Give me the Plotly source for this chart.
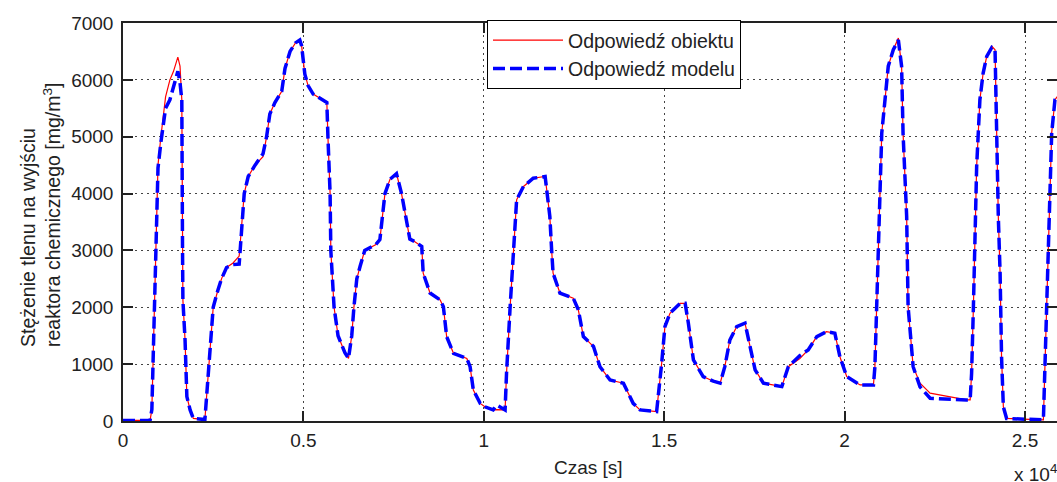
import plotly.graph_objects as go

# time in units of 10^4 s
czas = [0, 0.02, 0.075, 0.08, 0.088, 0.097, 0.105, 0.118, 0.13, 0.14, 0.152, 0.158, 0.163, 0.165, 0.166,
        0.172, 0.177, 0.186, 0.195, 0.227, 0.233, 0.239, 0.25, 0.263, 0.273, 0.287, 0.305, 0.322, 0.33,
        0.336, 0.347, 0.366, 0.388, 0.398, 0.407, 0.421, 0.44, 0.449, 0.463, 0.478, 0.49, 0.495, 0.504,
        0.513, 0.527, 0.554, 0.565, 0.568, 0.574, 0.576, 0.585, 0.596, 0.615, 0.625, 0.634, 0.64, 0.648,
        0.657, 0.67, 0.70, 0.712, 0.726, 0.74, 0.758, 0.772, 0.795, 0.81, 0.828, 0.832, 0.851, 0.879,
        0.888, 0.897, 0.916, 0.953, 0.962, 0.971, 0.99, 1.003, 1.026, 1.036, 1.059, 1.063, 1.073, 1.082,
        1.091, 1.11, 1.137, 1.17, 1.174, 1.183, 1.188, 1.192, 1.211, 1.248, 1.262, 1.276, 1.304, 1.322,
        1.35, 1.387, 1.414, 1.433, 1.479, 1.484, 1.493, 1.502, 1.516, 1.544, 1.558, 1.567, 1.581, 1.608,
        1.636, 1.655, 1.668, 1.682, 1.701, 1.724, 1.738, 1.752, 1.775, 1.826, 1.844, 1.876, 1.899, 1.923,
        1.95, 1.973, 1.987, 2.006, 2.043, 2.08, 2.084, 2.089, 2.093, 2.103, 2.112, 2.121, 2.135, 2.149,
        2.158, 2.162, 2.172, 2.176, 2.19, 2.209, 2.237, 2.283, 2.338, 2.348, 2.352, 2.357, 2.361, 2.366,
        2.375, 2.384, 2.394, 2.408, 2.417, 2.421, 2.426, 2.431, 2.435, 2.44, 2.449, 2.551, 2.555, 2.56,
        2.565, 2.569, 2.574, 2.583, 2.595]

odpowiedz_obiektu = [10, 10, 10, 200, 2500, 4500, 5000, 5700, 6000, 6150, 6400, 6240, 5650, 3010, 2130,
        1425, 430, 195, 45, 25, 500, 1000, 2000, 2300, 2500, 2700, 2780, 2900, 3500,
        4000, 4300, 4500, 4650, 5000, 5400, 5600, 5800, 6200, 6500, 6650, 6700, 6600, 6100,
        5900, 5750, 5650, 5600, 5000, 4000, 3000, 2000, 1500, 1200, 1100, 1500, 2000, 2500,
        2716, 3000, 3100, 3190, 4000, 4250, 4350, 4000, 3200, 3150, 3070, 2600, 2250, 2130,
        2010, 1485, 1190, 1100, 955, 545, 310, 250, 195, 200, 195, 840, 2010, 3010,
        3890, 4125, 4270, 4300, 4100, 3600, 3010, 2600, 2250, 2160, 1955, 1485, 1310, 955,
        720, 665, 310, 195, 165, 430, 1015, 1660, 1895, 2070, 2070, 1720, 1075, 780,
        700, 665, 955, 1425, 1660, 1720, 1310, 900, 665, 605, 955, 1100, 1250, 1485,
        1570, 1545, 1130, 780, 635, 635, 955, 2010, 3010, 5065, 5650, 6240, 6530, 6735,
        6240, 5065, 3600, 2010, 955, 665, 490, 430, 370, 370, 840, 2010, 3010, 4475,
        5650, 6120, 6415, 6590, 6530, 5065, 3600, 2600, 1130, 250, 45, 20, 840, 2010,
        2900, 3890, 5065, 5650, 5750]

odpowiedz_modelu = [10, 10, 10, 200, 2500, 4450, 4900, 5500, 5650, 5900, 6150, 5950, 5650, 3010, 2130,
        1425, 430, 195, 45, 25, 500, 1000, 2000, 2300, 2500, 2700, 2750, 2760, 3500,
        4000, 4300, 4500, 4700, 5000, 5400, 5600, 5800, 6200, 6500, 6650, 6700, 6600, 6100,
        5900, 5750, 5650, 5600, 5000, 4000, 3000, 2000, 1500, 1200, 1100, 1500, 2000, 2500,
        2716, 3000, 3100, 3190, 4000, 4250, 4350, 4000, 3200, 3150, 3070, 2600, 2250, 2130,
        2010, 1485, 1190, 1100, 955, 545, 310, 250, 195, 280, 195, 840, 2010, 3010,
        3890, 4125, 4270, 4300, 4100, 3600, 3010, 2600, 2250, 2160, 1955, 1485, 1310, 955,
        720, 665, 310, 195, 165, 430, 1015, 1660, 1895, 2070, 2070, 1720, 1075, 780,
        700, 665, 955, 1425, 1660, 1720, 1310, 900, 665, 605, 955, 1150, 1250, 1485,
        1570, 1545, 1130, 780, 635, 635, 955, 2010, 3010, 5065, 5650, 6240, 6530, 6700,
        6240, 5065, 3600, 2010, 955, 600, 400, 380, 370, 370, 840, 2010, 3010, 4475,
        5650, 6120, 6415, 6570, 6530, 5065, 3600, 2600, 1130, 250, 45, 20, 840, 2010,
        2900, 3890, 5065, 5650, 5750]

x_tickvals = [0, 0.5, 1, 1.5, 2, 2.5]
x_ticktext = ["0", "0.5", "1", "1.5", "2", "2.5"]
y_tickvals = [0, 1000, 2000, 3000, 4000, 5000, 6000, 7000]

FONT = "Liberation Sans, Arial, sans-serif"
TXT = "#222"

fig = go.Figure()
fig.add_trace(go.Scatter(x=czas, y=odpowiedz_obiektu, mode="lines", name="Odpowiedź obiektu",
                         line=dict(color="#FF0000", width=1.2)))
fig.add_trace(go.Scatter(x=czas, y=odpowiedz_modelu, mode="lines", name="Odpowiedź modelu",
                         line=dict(color="#0000FF", width=3.5, dash="12px,5px")))

fig.update_layout(
    width=1057, height=482,
    margin=dict(l=123, r=0, t=23, b=61),
    paper_bgcolor="white", plot_bgcolor="white",
    font=dict(family=FONT, size=19, color=TXT),
    showlegend=True,
    legend=dict(x=(487 - 123) / 934, y=(421 - 20) / 398, xanchor="left", yanchor="top",
                bgcolor="white", bordercolor="black", borderwidth=1,
                font=dict(family=FONT, size=19.5, color=TXT), itemwidth=70),
    xaxis=dict(range=[0, 934 / 360.8], tickvals=x_tickvals, ticktext=x_ticktext,
               showline=True, linecolor="#222", linewidth=1.5, mirror="ticks",
               ticks="inside", ticklen=10, tickcolor="#222", tickwidth=1.5,
               showgrid=True, gridcolor="#444", gridwidth=1, griddash="1.5px,4.5px",
               zeroline=False, automargin=False, ticklabelstandoff=1),
    yaxis=dict(range=[0, 7000], tickvals=y_tickvals,
               showline=True, linecolor="#222", linewidth=1.5,
               ticks="inside", ticklen=10, tickcolor="#222", tickwidth=1.5,
               showgrid=True, gridcolor="#444", gridwidth=1, griddash="1.5px,4.5px",
               zeroline=False, automargin=False, ticklabelstandoff=4),
    yaxis2=dict(range=[0, 7000], tickvals=y_tickvals, overlaying="y", side="right",
                showline=False, ticks="inside", ticklen=10, tickcolor="#222", tickwidth=1.5,
                showticklabels=False, showgrid=False, zeroline=False, automargin=False),
    annotations=[
        dict(text="Czas [s]", xref="paper", yref="paper", x=(588 - 123) / 934, y=(421 - 467) / 398,
             xanchor="center", yanchor="middle", showarrow=False, font=dict(size=19)),
        dict(text="x 10<sup>4</sup>", xref="paper", yref="paper", x=(1012 - 123) / 934,
             y=(421 - 473) / 398, xanchor="left", yanchor="middle", showarrow=False,
             font=dict(size=19)),
        dict(text="Stężenie tlenu na wyjściu<br>reaktora chemicznego [mg/m<sup>3</sup>]",
             xref="paper", yref="paper", x=(40 - 123) / 934, y=(421 - 215) / 398, textangle=-90,
             align="left", xanchor="center", yanchor="middle", showarrow=False,
             font=dict(size=19.5)),
    ],
)
# invisible trace on yaxis2 so the right-side ticks get drawn
fig.add_trace(go.Scatter(x=[None], y=[None], yaxis="y2", showlegend=False, hoverinfo="skip"))

fig.write_html("out.html", config={"displayModeBar": False},
               post_script="document.body.style.margin='0';")
